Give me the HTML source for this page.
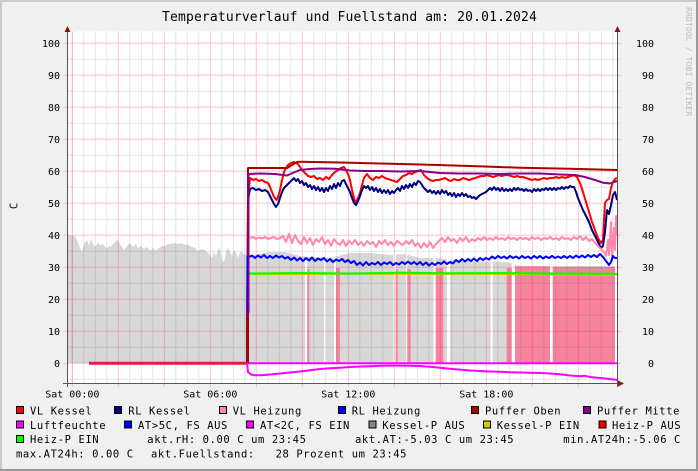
<!DOCTYPE html>
<html><head><meta charset="utf-8"><style>
html,body{margin:0;padding:0;background:#F0F0F0;}
svg{display:block;}
text{font-family:"DejaVu Sans Mono","Liberation Mono",monospace;}
</style></head><body>
<svg width="698" height="471" viewBox="0 0 698 471" xmlns="http://www.w3.org/2000/svg">
<rect x="0" y="0" width="698" height="471" fill="#F0F0F0"/>
<rect x="0" y="0" width="698" height="2" fill="#CBCBCB"/>
<rect x="0" y="0" width="2" height="471" fill="#CBCBCB"/>
<rect x="0" y="469" width="698" height="2" fill="#999999"/>
<rect x="696" y="0" width="2" height="471" fill="#999999"/>

<!-- title -->
<text x="349.5" y="21" font-size="13" letter-spacing="0.15" text-anchor="middle" fill="#000">Temperaturverlauf und Fuellstand am: 20.01.2024</text>
<!-- watermark -->
<text transform="translate(686,7) rotate(90)" font-size="8" letter-spacing="0.15" fill="#BDBDBD">RRDTOOL / TOBI OETIKER</text>
<!-- y label -->
<text transform="translate(17.5,206) rotate(-90)" font-size="10.5" text-anchor="middle" fill="#000">C</text>

<!-- canvas -->
<rect x="67.5" y="31.5" width="550" height="352" fill="#FFFFFF"/>

<!-- gray area -->
<path fill="#D7D7D7" d="M67.5,363.3 L67.5,235 L72,235.5 L75,236 L77,240 L80,248 L82,252 L84,244 L87,240 L89,246 L91,238 L93,244 L95,247 L98,243 L100,245 L103,244 L106,248 L109,247 L111,246 L114,243 L116,240 L118,241 L120,244 L122,247 L124,250 L127,246 L130,243 L133,247 L136,244 L138,248 L141,246 L144,249 L147,247 L150,251 L153,248 L156,251 L159,248 L162,246 L165,246 L168,244 L171,244 L174,243 L177,244 L180,243 L183,244 L186,245 L189,245 L192,247 L195,248 L198,251 L201,249 L205,250 L208,253 L210,255 L212,258 L214,252 L216,256 L218,250 L220,248 L222,260 L224,262 L226,252 L228,248 L230,252 L232,256 L234,250 L236,253 L238,258 L240,252 L242,252 L244,254 L246,255 L248,256 L270,252 L285,252 L300,256 L330,258 L350,253 L370,253 L390,255 L405,254 L420,258 L440,258 L460,261 L507,262 L520,266 L617,266 L617,363.3 Z"/>
<!-- white gaps -->
<g fill="#FFFFFF">
<rect x="305" y="250" width="2.2" height="113.3"/>
<rect x="324" y="250" width="2" height="113.3"/>
<rect x="334" y="250" width="2" height="113.3"/>
<rect x="393.5" y="250" width="2.2" height="113.3"/>
<rect x="405.5" y="250" width="1.8" height="113.3"/>
<rect x="433.5" y="250" width="2.2" height="113.3"/>
<rect x="447" y="250" width="3" height="113.3"/>
<rect x="490.7" y="250" width="2" height="113.3"/>
<rect x="511.7" y="250" width="3.3" height="113.3"/>
<rect x="550" y="250" width="2.7" height="113.3"/>
<rect x="615" y="250" width="2.5" height="113.3"/>
</g>
<!-- pink bars -->
<g fill="#F7839F">
<rect x="307.2" y="269" width="2.1" height="94.3"/>
<rect x="336" y="268" width="4" height="95.3"/>
<rect x="395.7" y="269" width="2" height="94.3"/>
<rect x="407.3" y="269" width="3.4" height="94.3"/>
<rect x="435.7" y="268" width="7.6" height="95.3"/>
<rect x="506.7" y="268" width="5" height="95.3"/>
<rect x="515" y="266.5" width="35" height="96.8"/>
<rect x="552.7" y="267" width="62.3" height="96.3"/>
</g>

<!-- grid minor -->
<path stroke="rgba(90,90,90,0.17)" stroke-width="1" fill="none" d="
M72.3,31.5V383 M83.8,31.5V383 M95.3,31.5V383 M106.8,31.5V383 M129.8,31.5V383 M141.3,31.5V383 M152.8,31.5V383 M175.8,31.5V383 M187.3,31.5V383 M198.8,31.5V383 M221.8,31.5V383 M233.3,31.5V383 M244.8,31.5V383 M267.8,31.5V383 M279.3,31.5V383 M290.8,31.5V383 M313.8,31.5V383 M325.3,31.5V383 M336.8,31.5V383 M359.8,31.5V383 M371.3,31.5V383 M382.8,31.5V383 M405.8,31.5V383 M417.3,31.5V383 M428.8,31.5V383 M451.8,31.5V383 M463.3,31.5V383 M474.8,31.5V383 M497.8,31.5V383 M509.3,31.5V383 M520.8,31.5V383 M543.8,31.5V383 M555.3,31.5V383 M566.8,31.5V383 M589.8,31.5V383 M601.3,31.5V383 M612.8,31.5V383
M67.5,59.3H619 M67.5,91.3H619 M67.5,123.3H619 M67.5,155.3H619 M67.5,187.3H619 M67.5,219.3H619 M67.5,251.3H619 M67.5,283.3H619 M67.5,315.3H619 M67.5,347.3H619 M67.5,379.3H619"/>
<!-- grid major -->
<path stroke="rgba(255,0,0,0.22)" stroke-width="1" fill="none" d="
M72.3,31.5V387 M118.3,31.5V387 M164.3,31.5V387 M210.3,31.5V387 M256.3,31.5V387 M302.3,31.5V387 M348.3,31.5V387 M394.3,31.5V387 M440.3,31.5V387 M486.3,31.5V387 M532.3,31.5V387 M578.3,31.5V387
M63,43.3H621 M63,75.3H621 M63,107.3H621 M63,139.3H621 M63,171.3H621 M63,203.3H621 M63,235.3H621 M63,267.3H621 M63,299.3H621 M63,331.3H621 M63,363.3H621"/>

<!-- zero lines -->
<path d="M89,363.3H247" stroke="#E31B45" stroke-width="3" fill="none"/>
<path d="M247,363.3H617" stroke="#FF00FF" stroke-width="2" fill="none"/>
<!-- AT curve -->
<polyline fill="none" stroke="#FF00FF" stroke-width="2" stroke-linejoin="round" points="247,363 248,372 251,374.5 255,375.3 262,375.2 270,374.5 280,373.5 290,372.5 300,371.5 310,370.3 320,369 330,368.3 340,367.7 350,367 360,366.5 370,366.2 380,365.8 390,365.6 400,365.6 410,365.7 420,366 430,366.8 440,367.7 450,368.7 460,369.6 470,370.5 480,371 490,371.5 500,371.8 510,372.2 520,372.5 530,372.7 540,373 550,373.5 560,374.3 570,375.5 580,376.3 585,375.8 590,377 600,378 610,379 617,380"/>

<!-- green / yellow -->
<polyline fill="none" stroke="#CCCC00" stroke-width="1" points="250,274.6 400,274.2 500,274.4 617,275"/>
<polyline fill="none" stroke="#00FF00" stroke-width="2" points="248,273.5 300,273 350,273.5 400,272.8 450,273.2 500,273 550,273.5 617,273.8"/>

<!-- VL Kessel red -->
<polyline fill="none" stroke="#FF0000" stroke-width="2" stroke-linejoin="round" points="247,363 247,318 248,200 250,178 253,180 256,179 259,181 262,180 265,182 268,183 270,187 272,192 274,197 276.5,200 278,197 280,190 282,180 284,172 286,168 288,165 291,163 294,162 296,163 298,164 300,167 302,170 305,173 308,176 311,177 314,176 317,179 320,178 323,180 326,177 329,179 332,175 335,172 338,170 341,168 344,167 346,170 348,174 350,180 352,190 354,198 355.5,203 358,198 360,193 362,185 364,178 367,174 370,178 373,180 376,177 379,178 382,176 385,178 388,179 391,180 394,181 397,182 400,179 403,176 406,175 409,173 412,174 415,172 418,171 421,170 424,175 427,178 430,180 433,181 436,180 439,180 442,179 445,178 448,180 451,181 454,179 457,180 460,180 463,178 466,179 469,180 472,179 475,178 478,177 481,176 484,176 487,175 490,176 493,177 496,176 499,175 502,176 505,175 508,175 511,176 514,177 517,176 520,177 523,177 526,178 529,179 532,180 535,179 538,180 541,179 544,178 547,179 550,178 553,178 556,177 559,178 562,177 565,178 568,177 571,176 574,175 577,177 580,183 583,192 586,202 589,212 592,222 595,230 598,238 601,243 603,240 604,220 605,203 607,200 609,199 611,188 613,182 615,179 617,178"/>
<!-- RL Kessel navy -->
<polyline fill="none" stroke="#000080" stroke-width="2" stroke-linejoin="round" points="247.5,363 248,200 250,189 253,188 256,190 259,189 262,191 265,190 268,192 270,196 272,200 274,204 276,207 278,204 280,198 282,192 284,188 286,186 288,184 290,182 292,180 294,178 296,181 298,179 300,183 302,181 304,185 306,183 308,187 310,185 312,189 314,186 316,190 318,187 320,191 322,188 324,192 326,188 328,191 330,186 332,189 334,184 336,188 338,183 340,186 342,181 344,180 346,184 348,188 350,192 352,198 354,203 356,205 358,201 360,196 362,190 364,186 366,188 368,186 370,190 372,187 374,191 376,188 378,192 380,189 382,193 384,190 386,193 388,190 390,194 392,191 394,193 396,190 398,188 400,191 402,186 404,189 406,185 408,188 410,184 412,187 414,183 416,185 418,181 420,182 422,185 424,188 426,190 428,192 430,190 432,193 434,191 436,194 438,191 440,194 442,190 444,193 446,191 448,195 450,193 452,196 454,193 456,197 458,194 460,196 462,193 464,196 466,194 468,197 470,196 472,198 474,197 476,199 478,197 480,195 482,194 484,193 486,192 488,190 490,188 492,190 494,187 496,190 498,188 500,191 502,188 504,191 506,189 508,191 510,189 512,191 514,188 516,190 518,188 520,190 522,189 524,191 526,189 528,191 530,190 532,192 534,189 536,191 538,189 540,191 542,189 544,190 546,188 548,190 550,188 552,190 554,188 556,190 558,188 560,189 562,187 564,189 566,187 568,188 570,186 572,187 574,187 576,192 578,198 580,203 583,210 586,216 589,222 592,230 595,236 598,242 601,248 603,246 605,232 607,210 609,214 611,205 613,195 615,192 617,200"/>
<!-- VL Heizung pink -->
<polyline fill="none" stroke="#FF88AA" stroke-width="2" stroke-linejoin="round" points="250,238 253,237 256,239 259,237.5 262,238.5 265,237 268,239 271,238 274,237 277,239 280,238 283,236 286,242 289,234 292,243 295,235 298,241 301,244 304,237 307,243 310,238 313,245 316,239 319,242 322,237 325,244 328,240 331,246 334,239 337,243 340,245 343,240 346,246 349,241 352,244 355,240 358,245 361,242 364,246 367,241 370,244 373,242 376,247 379,241 382,244 385,240 388,245 391,242 394,246 397,241 400,243 403,245 406,241 409,244 412,240 415,246 418,243 421,248 424,243 427,247 430,242 433,248 436,244 439,241 442,238 445,242 448,237 451,241 454,239 457,243 460,238 463,241 466,237 469,242 472,239 475,241 478,238 481,240 484,237 487,240 490,238 493,240 496,237 499,239.5 502,238 505,240 508,237 511,239 514,238 517,240 520,237.5 523,239 526,238 529,240 532,237 535,239 538,237.5 541,240 544,238 547,239 550,237 553,239.5 556,238 559,240 562,237 565,239 568,238 571,240 574,237 577,239 580,236 583,240 586,237 589,241 592,239 595,243 598,246 601,249 604,252 606,256 608,240 609,255 611,222 612,258 614,228 615,250 616,216 617,235"/>
<!-- RL Heizung blue -->
<polyline fill="none" stroke="#0000FF" stroke-width="2" stroke-linejoin="round" points="247.5,318 247.5,258 249,257 252,255.5 255,258 258,255.5 261,257.5 264,255 267,258 270,256 273,258 276,255.5 279,257.5 282,256 285,258.5 288,257 291,260 294,257.5 297,260.5 300,258 303,261 306,258 309,260.5 312,257.5 315,261 318,258.5 321,260 324,258 327,261.5 330,259 333,262 336,259.5 339,261 342,259 345,262 348,260 351,263 354,261 357,265 360,262.5 363,265.5 366,262 369,265 372,263 375,264.5 378,262 381,265 384,262.5 387,264 390,262 393,265 396,263 399,264.5 402,262 405,264 408,261.5 411,264 414,262 417,264.5 420,262 423,265 426,262.5 429,265.5 432,263 435,265 438,262.5 441,264 444,261.5 447,264 450,262 453,263.5 456,260 459,262 462,259 465,261.5 468,259 471,261 474,258.5 477,261 480,258 483,260 486,258 489,259.5 492,256.5 495,258.5 498,256 501,258 504,256.5 507,258.5 510,256 513,258 516,256.5 519,258.5 522,256 525,258 528,256.5 531,258.5 534,256 537,258 540,256 543,258.5 546,256.5 549,258 552,256 555,258 558,256.5 561,258 564,256 567,258 570,256 573,258 576,255.5 579,257.5 582,255.5 585,257.5 588,255 591,257 594,255 597,257 600,254 603,257 606,261 609,265 611,262 613,256 615,258 617,258"/>
<!-- Puffer Oben -->
<polyline fill="none" stroke="#AA0000" stroke-width="2" stroke-linejoin="round" points="248,363 248,168 287,168 292,165 297,162 300,161.7 340,162.5 380,163.5 420,164.5 470,166 520,167.7 570,168.8 617,170"/>
<!-- Puffer Mitte -->
<polyline fill="none" stroke="#880088" stroke-width="2" stroke-linejoin="round" points="248.5,313 248.5,174 260,173.5 275,174 287,175.5 295,172 300,170 310,169 320,168.5 335,168.8 350,170.5 365,171 380,171 400,171.5 420,171 440,173 460,173.5 480,173.5 500,174 520,173.5 540,173.5 560,174.5 575,175 585,177 595,180 603,182.7 610,183.5 614,182 617,181"/>
<!-- small blue over vertical -->
<path d="M247.3,312V256" stroke="#0000FF" stroke-width="1.2" fill="none"/>

<!-- axes -->
<path d="M67.5,31V387 M63,383.5H619 M617.5,31V387" stroke="#555555" stroke-width="1" fill="none"/>
<path d="M64.5,32 L70.5,32 L67.5,26 Z" fill="#8B1414"/>
<path d="M614.5,32 L620.5,32 L617.5,26 Z" fill="#8B1414"/>
<path d="M618,380.5 L618,386.5 L624,383.5 Z" fill="#8B1414"/>

<!-- left tick labels -->
<g font-size="10" text-anchor="end" fill="#000">
<text x="60" y="46.8">100</text>
<text x="60" y="78.8">90</text>
<text x="60" y="110.8">80</text>
<text x="60" y="142.8">70</text>
<text x="60" y="174.8">60</text>
<text x="60" y="206.8">50</text>
<text x="60" y="238.8">40</text>
<text x="60" y="270.8">30</text>
<text x="60" y="302.8">20</text>
<text x="60" y="334.8">10</text>
<text x="60" y="366.8">0</text>
</g>
<g font-size="10" text-anchor="end" fill="#000">
<text x="654" y="46.8">100</text>
<text x="654" y="78.8">90</text>
<text x="654" y="110.8">80</text>
<text x="654" y="142.8">70</text>
<text x="654" y="174.8">60</text>
<text x="654" y="206.8">50</text>
<text x="654" y="238.8">40</text>
<text x="654" y="270.8">30</text>
<text x="654" y="302.8">20</text>
<text x="654" y="334.8">10</text>
<text x="654" y="366.8">0</text>
</g>
<g font-size="10" text-anchor="middle" fill="#000">
<text x="72.3" y="397.5">Sat 00:00</text>
<text x="210.3" y="397.5">Sat 06:00</text>
<text x="348.3" y="397.5">Sat 12:00</text>
<text x="486.3" y="397.5">Sat 18:00</text>
</g>

<!-- legend boxes -->
<g stroke="#000" stroke-width="1">
<rect x="16.5" y="406.5" width="7" height="7" fill="#FF0000"/>
<rect x="114.5" y="406.5" width="7" height="7" fill="#000080"/>
<rect x="219.5" y="406.5" width="7" height="7" fill="#FF88AA"/>
<rect x="338.5" y="406.5" width="7" height="7" fill="#0000FF"/>
<rect x="471.5" y="406.5" width="7" height="7" fill="#AA0000"/>
<rect x="583.5" y="406.5" width="7" height="7" fill="#880088"/>
<rect x="16.5" y="421" width="7" height="7" fill="#FF00FF"/>
<rect x="124.5" y="421" width="7" height="7" fill="#0000FF"/>
<rect x="246.5" y="421" width="7" height="7" fill="#FF00FF"/>
<rect x="369" y="421" width="7" height="7" fill="#888888"/>
<rect x="483.5" y="421" width="7" height="7" fill="#CCCC00"/>
<rect x="599" y="421" width="7" height="7" fill="#FF0000"/>
<rect x="16.5" y="435.5" width="7" height="7" fill="#00FF00"/>
</g>
<g font-size="10.5" letter-spacing="0.6" fill="#000">
<text x="30" y="414.5">VL Kessel</text>
<text x="128.3" y="414.5">RL Kessel</text>
<text x="232.7" y="414.5">VL Heizung</text>
<text x="351.7" y="414.5">RL Heizung</text>
<text x="485" y="414.5">Puffer Oben</text>
<text x="597" y="414.5">Puffer Mitte</text>
<text x="30" y="429">Luftfeuchte</text>
<text x="138" y="429">AT&gt;5C, FS AUS</text>
<text x="260" y="429">AT&lt;2C, FS EIN</text>
<text x="382.3" y="429">Kessel-P AUS</text>
<text x="496.7" y="429">Kessel-P EIN</text>
<text x="612" y="429">Heiz-P AUS</text>
<text x="30" y="443">Heiz-P EIN</text>
<text x="147.3" y="443">akt.rH: 0.00 C um 23:45</text>
<text x="355" y="443">akt.AT:-5.03 C um 23:45</text>
<text x="563.3" y="443">min.AT24h:-5.06 C</text>
<text x="16" y="457.3">max.AT24h: 0.00 C</text>
<text x="151" y="457.3" xml:space="preserve">akt.Fuellstand:   28 Prozent um 23:45</text>
</g>
</svg>
</body></html>
